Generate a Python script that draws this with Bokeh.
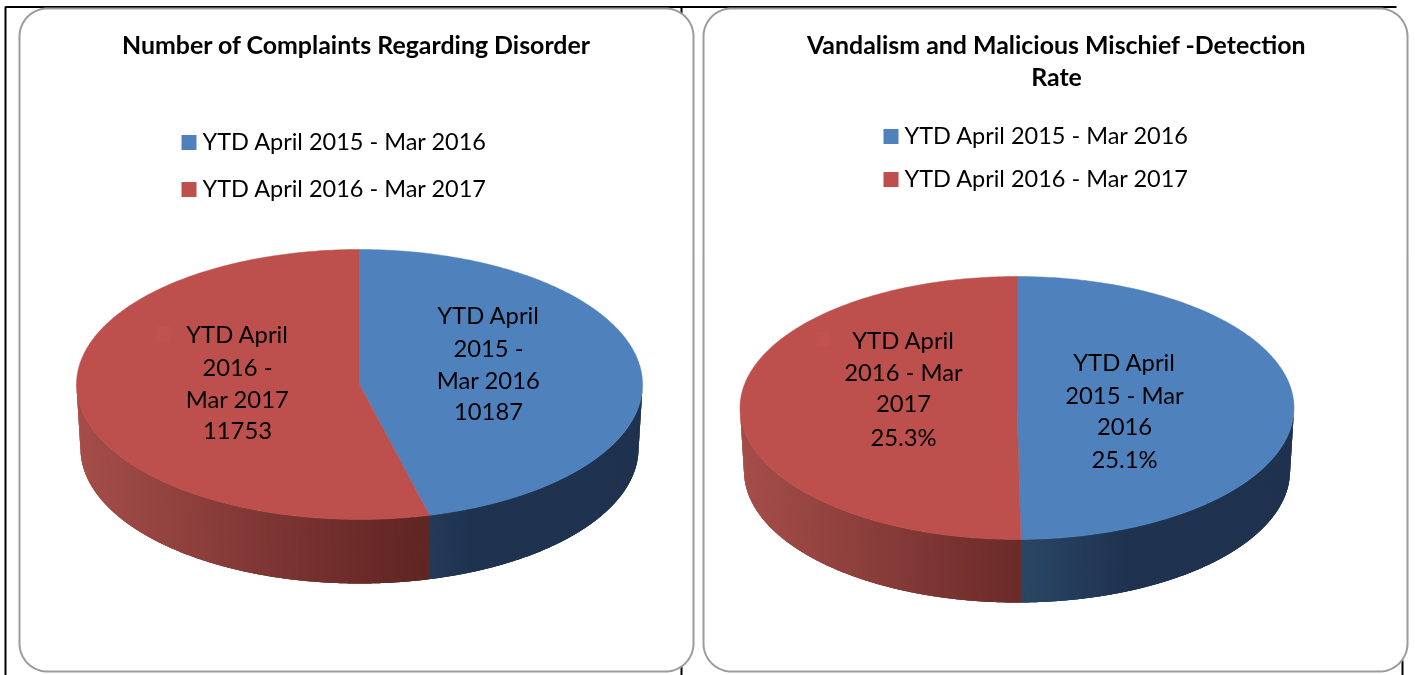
import numpy as np
from bokeh.core.properties import value
from bokeh.embed import file_html
from bokeh.models import Range1d
from bokeh.plotting import figure
from bokeh.resources import INLINE

# ---- data ----
series = ["YTD April 2015 - Mar 2016", "YTD April 2016 - Mar 2017"]
complaints = [10187, 11753]
detection_rate = [25.1, 25.3]
title_left = ["Number of Complaints Regarding Disorder"]
title_right = ["Vandalism and Malicious Mischief -Detection", "Rate"]
labels_left_blue = ["YTD April", "2015 -", "Mar 2016", "10187"]
labels_left_red = ["YTD April", "2016 -", "Mar 2017", "11753"]
labels_right_blue = ["YTD April", "2015 - Mar", "2016", "25.1%"]
labels_right_red = ["YTD April", "2016 - Mar", "2017", "25.3%"]

# ---- style ----
BLUE, RED = "#4f81bd", "#bd4f4c"
FONT = value("Lato")
LABEL_SIZE = "23.8px"
LEGEND_SIZE = "23.5px"
TITLE_SIZE = "24.9px"
W, H = 1415, 675

p = figure(width=W, height=H, x_range=Range1d(0, W), y_range=Range1d(H, 0),
           output_backend="svg", toolbar_location=None, min_border=0,
           x_axis_type=None, y_axis_type=None, outline_line_color=None)
p.grid.visible = False
p.styles = {"position": "fixed", "left": "0", "top": "0"}


def hex2rgb(c):
    return np.array([int(c[i:i + 2], 16) for i in (1, 3, 5)], dtype=float)


def ramp(stops, f):
    xs = [s[0] for s in stops]
    rgb = np.array([hex2rgb(s[1]) for s in stops])
    c = [int(round(np.interp(f, xs, rgb[:, i]))) for i in range(3)]
    return "#%02x%02x%02x" % tuple(c)


RED_STOPS = [(0, "#a54e4a"), (0.5, "#6b2b29"), (0.65, "#5c2521"), (1, "#5c2521")]
BLUE_STOPS = [(0, "#2a4766"), (0.5, "#2a4766"), (0.7, "#1f3350"), (1, "#1f3350")]


def warp(t):
    # perspective foreshortening of the chart's 3-D rotation
    return t + np.radians(3.4) * np.sin(2 * t)


def pie3d(vals, cx, cy, rx, ry, depth, inset):
    split = warp(2 * np.pi * vals[0] / sum(vals))
    top = lambda t: (cx + rx * np.sin(t), cy - ry * np.cos(t))
    bot = lambda t: (cx + (rx - inset) * np.sin(t), cy + depth - ry * np.cos(t))

    # side wall: painted from the outer edge inward, each band overlapping the next
    xs, ys, cols = [], [], []
    lo, hi = np.radians(90), np.radians(270)
    for t0, t1, stops in ((lo, split, BLUE_STOPS), (split, hi, RED_STOPS)):
        edges = np.linspace(t0, t1, max(2, int(np.degrees(t1 - t0) * 1.5)))
        if stops is RED_STOPS:
            edges = edges[::-1]
        for i in range(len(edges) - 1):
            a, b = edges[i], edges[min(i + 3, len(edges) - 1)]
            t = np.linspace(a, b, 5)
            xt, yt = top(t)
            xb, yb = bot(t[::-1])
            xs.append(np.r_[xt, xb]); ys.append(np.r_[yt, yb])
            m = (edges[i] + edges[i + 1]) / 2
            f = (np.sin(m) + 1) / 2
            cols.append(ramp(stops, f))
    p.patches(xs, ys, fill_color=cols, line_color=None)

    # top face
    for t0, t1, col in ((0, split, BLUE), (split, 2 * np.pi, RED)):
        t = np.linspace(t0, t1, 240)
        x, y = top(t)
        p.patch(np.r_[cx, x], np.r_[cy, y], fill_color=col, line_color=col, line_width=0.5)


def panel(x0, y0, x1, y1, r):
    a = np.linspace(0, np.pi / 2, 24)
    xs = np.r_[x0 + r - r * np.cos(a), x1 - r + r * np.sin(a),
               x1 - r + r * np.cos(a), x0 + r - r * np.sin(a)]
    ys = np.r_[y0 + r - r * np.sin(a), y0 + r - r * np.cos(a),
               y1 - r + r * np.sin(a), y1 - r + r * np.cos(a)]
    p.patch(xs, ys, fill_color="white", line_color="#9c9c9c", line_width=2)


def lines(x, ys, texts, size=LABEL_SIZE, style="normal", align="center", dy=-1.5):
    p.text(x=[x] * len(texts), y=[y + dy for y in ys], text=texts, text_font=FONT,
           text_font_size=size, text_font_style=style, text_align=align,
           text_baseline="middle", text_color="#000000")


# background table rules
p.multi_line([[5, 5], [5, 1396], [681, 681], [1402, 1402]],
             [[6, 675], [6.5, 6.5], [6, 675], [660, 675]],
             line_color="black", line_width=2)

panel(19, 8, 693, 671, 28)
panel(703, 8, 1407, 671, 28)

pie3d(complaints, 359, 384, 283, 135, 64, 4)
pie3d(detection_rate, 1016.5, 407.5, 277, 131.5, 63, 4)

# faint legend-key remnants under the red labels
p.quad(left=[156, 816], right=[170, 830], top=[326, 331], bottom=[341, 346],
       fill_color="#c1534f", line_color=None)

# titles
lines(356, [45], title_left, TITLE_SIZE, "bold", dy=-2)
lines(1056, [45, 77], title_right, TITLE_SIZE, "bold", dy=-2)

# legends
for sx, tx, ys in ((181, 202, (142, 189)), (883, 904, (136, 179))):
    p.quad(left=[sx, sx], right=[sx + 15, sx + 15],
           top=[y - 7.5 for y in ys], bottom=[y + 7.5 for y in ys],
           fill_color=[BLUE, RED], line_color=None)
    lines(tx, list(ys), series, size=LEGEND_SIZE, align="left")

# data labels
lines(488, [315, 348, 380, 412], labels_left_blue, dy=-1)
lines(237, [334, 367, 399, 431], labels_left_red, dy=-1)
lines(1124, [362, 395, 427, 459], labels_right_blue, dy=-1)
lines(903, [340, 372, 404, 437], labels_right_red, dy=-1)

open("out.html", "w").write(file_html(p, INLINE))
